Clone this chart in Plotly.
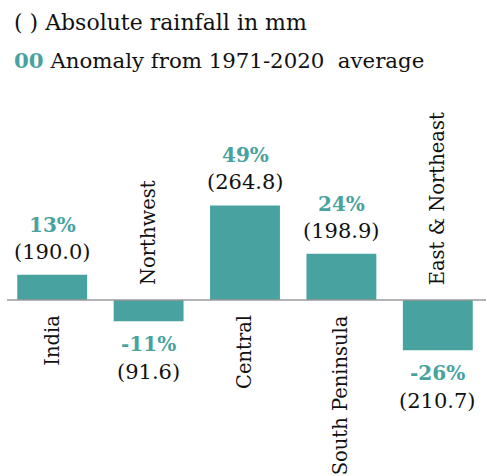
import plotly.graph_objects as go

# ---- data ----
regions = ["India", "Northwest", "Central", "South Peninsula", "East & Northeast"]
anomaly_pct = [13, -11, 49, 24, -26]
rainfall_mm = [190.0, 91.6, 264.8, 198.9, 210.7]

legend_abs = "( ) Absolute rainfall in mm"
legend_anom_key = "00"
legend_anom_text = " Anomaly from 1971-2020&nbsp; average"

# ---- style ----
TEAL = "#48a3a0"
INK = "#111111"
FONT = "DejaVu Serif"
W, H = 487, 476
ML, MR, MT, MB = 4, 1, 0, 0
PW = W - ML - MR

fig = go.Figure(
    go.Bar(
        x=regions,
        y=anomaly_pct,
        marker=dict(color=TEAL, line=dict(width=0)),
        width=0.725,
        hoverinfo="skip",
    )
)

ann = []
for r, v, mm in zip(regions, anomaly_pct, rainfall_mm):
    sign = 1 if v >= 0 else -1
    ann.append(dict(x=r, y=v, xref="x", yref="y", text=f"<b>{v}%</b>",
                    showarrow=False, yanchor="middle", xanchor="center",
                    yshift=sign * (50 if sign > 0 else 23),
                    font=dict(family=FONT, size=20, color=TEAL)))
    ann.append(dict(x=r, y=v, xref="x", yref="y", text=f"({mm:.1f})",
                    showarrow=False, yanchor="middle", xanchor="center",
                    yshift=sign * (23 if sign > 0 else 51),
                    font=dict(family=FONT, size=21, color=INK)))
    ann.append(dict(x=r, y=0, xref="x", yref="y", text=r, textangle=-90,
                    showarrow=False, xanchor="center",
                    yanchor="top" if sign > 0 else "bottom",
                    yshift=-13 if sign > 0 else 13,
                    font=dict(family=FONT, size=19.5, color=INK)))

# legend texts
ann.append(dict(xref="paper", yref="paper", x=(12 - ML) / PW, y=1 - 22 / H,
                xanchor="left", yanchor="middle", showarrow=False,
                text=legend_abs, font=dict(family=FONT, size=22, color=INK)))
ann.append(dict(xref="paper", yref="paper", x=(12 - ML) / PW, y=1 - 60 / H,
                xanchor="left", yanchor="middle", showarrow=False,
                text=f"<b><span style='color:{TEAL}'>{legend_anom_key}</span></b>{legend_anom_text}",
                font=dict(family=FONT, size=21.3, color=INK)))

fig.update_layout(
    width=W, height=H,
    margin=dict(l=ML, r=MR, t=MT, b=MB),
    paper_bgcolor="white", plot_bgcolor="white",
    showlegend=False,
    bargap=0.275,
    xaxis=dict(visible=False, range=[-0.5, 4.5]),
    yaxis=dict(visible=False, range=[-91.2, 155.4], zeroline=False),
    annotations=ann,
    shapes=[dict(type="line", xref="paper", yref="y", x0=(7 - ML) / PW, x1=1,
                 y0=0, y1=0, line=dict(color="#9a9a9a", width=1.5))],
)

fig.write_html(
    "out.html",
    config={"displayModeBar": False},
    post_script="document.body.style.margin='0';document.body.style.overflow='hidden';",
)
